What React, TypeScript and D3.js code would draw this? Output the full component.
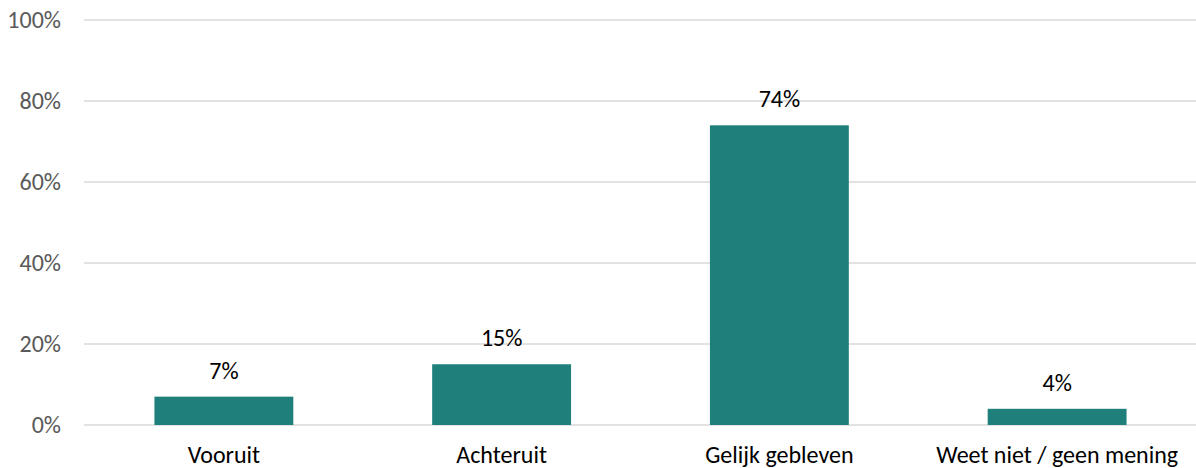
import * as d3 from "d3";

const categories = ["Vooruit", "Achteruit", "Gelijk gebleven", "Weet niet / geen mening"];
const values = [7, 15, 74, 4];
const yTicks = [0, 20, 40, 60, 80, 100];

const width = 1196;
const height = 468;
const margin = { top: 20, right: 0, bottom: 43, left: 85 };

export default function App() {
  const innerWidth = width - margin.left - margin.right;
  const innerHeight = height - margin.top - margin.bottom;

  const xScale = d3.scaleBand().domain(categories).range([0, innerWidth]).paddingInner(0.5).paddingOuter(0.25);
  const yScale = d3.scaleLinear().domain([0, 100]).range([innerHeight, 0]);
  const font = "Carlito, 'Open Sans', 'Liberation Sans', sans-serif";

  return (
    <svg width={width} height={height} style={{ position: "absolute", left: 0, top: 0 }}>
      <g transform={`translate(${margin.left}, ${margin.top})`}>
        {yTicks.map((t) => (
          <g key={t}>
            <line x1={-1} x2={innerWidth} y1={yScale(t)} y2={yScale(t)} stroke="#d9d9d9" strokeWidth={1.5} />
            <text x={-24} y={yScale(t)} dy="0.35em" textAnchor="end" fontFamily={font} fontSize={24} fill="#595959">
              {t}%
            </text>
          </g>
        ))}
        {categories.map((c, i) => (
          <g key={c}>
            <rect
              x={xScale(c)!}
              y={yScale(values[i])}
              width={xScale.bandwidth()}
              height={innerHeight - yScale(values[i])}
              fill="#1f7f7a"
            />
            <text
              x={xScale(c)! + xScale.bandwidth() / 2}
              y={yScale(values[i]) - 18}
              textAnchor="middle"
              fontFamily={font}
              fontSize={24}
              fill="#000"
            >
              {values[i]}%
            </text>
            <text
              x={xScale(c)! + xScale.bandwidth() / 2}
              y={innerHeight + 38}
              textAnchor="middle"
              fontFamily={font}
              fontSize={24}
              fill="#000"
            >
              {c}
            </text>
          </g>
        ))}
      </g>
    </svg>
  );
}
